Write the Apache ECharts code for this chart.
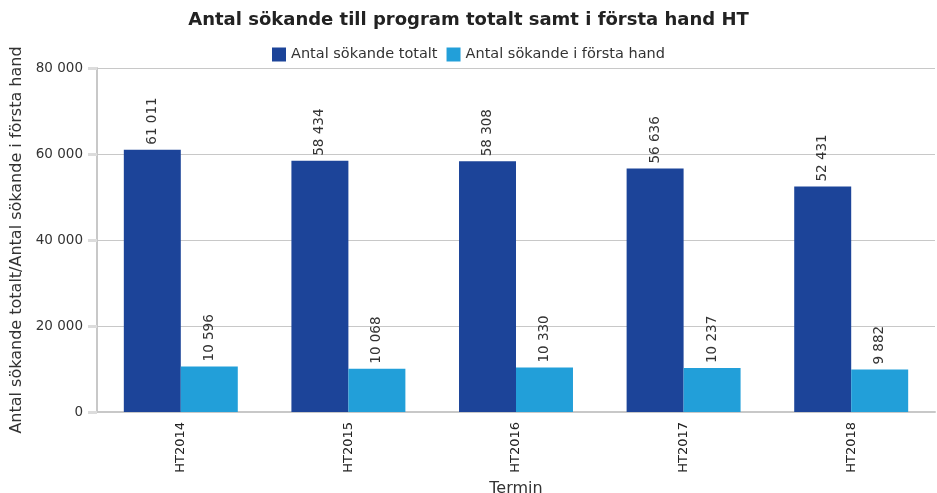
<!DOCTYPE html>
<html>
<head>
<meta charset="utf-8">
<script src="https://cdn.jsdelivr.net/npm/echarts@6/dist/echarts.min.js"></script>
<style>
  html, body { margin: 0; padding: 0; background: #fff; }
  #chart { width: 937px; height: 493px; }
</style>
</head>
<body>
<div id="chart"></div>
<script>
const terms = ['HT2014', 'HT2015', 'HT2016', 'HT2017', 'HT2018'];
const totalt = [61011, 58434, 58308, 56636, 52431];
const forstaHand = [10596, 10068, 10330, 10237, 9882];

function fmt(v) {
  return String(v).replace(/\B(?=(\d{3})+(?!\d))/g, ' ');
}

const chart = echarts.init(document.getElementById('chart'));

const labelStyle = {
  show: true,
  position: 'top',
  rotate: 90,
  align: 'left',
  verticalAlign: 'middle',
  distance: 5,
  color: '#333',
  fontSize: 13.5,
  fontFamily: 'DejaVu Sans',
  formatter: (p) => fmt(p.value),
};

chart.setOption({
  animation: false,
  textStyle: { fontFamily: 'DejaVu Sans' },
  title: {
    text: 'Antal sökande till program totalt samt i första hand HT',
    left: 'center',
    top: 6,
    textStyle: { fontSize: 18, fontWeight: 'bold', color: '#222' },
  },
  legend: {
    top: 42,
    left: 'center',
    itemWidth: 14,
    itemHeight: 14,
    itemGap: 9,
    icon: 'rect',
    textStyle: { fontSize: 14.5, color: '#333' },
  },
  grid: {
    left: 97,
    right: 2,
    top: 68,
    bottom: 81,
    outerBoundsMode: 'none',
  },
  xAxis: {
    type: 'category',
    data: terms,
    name: 'Termin',
    nameLocation: 'middle',
    nameGap: 63,
    nameTextStyle: { fontSize: 16, color: '#333' },
    axisLine: { lineStyle: { color: '#c8c8c8', width: 2 } },
    axisTick: { show: false },
    axisLabel: { rotate: 90, color: '#222', fontSize: 13, margin: 10 },
  },
  yAxis: {
    type: 'value',
    min: 0,
    max: 80000,
    interval: 20000,
    name: 'Antal sökande totalt/Antal sökande i första hand',
    nameLocation: 'middle',
    nameGap: 71,
    nameTextStyle: { fontSize: 16, color: '#333' },
    axisLine: { show: true, lineStyle: { color: '#c8c8c8', width: 2 } },
    axisTick: { show: true, length: 9, lineStyle: { color: '#dcdcdc', width: 3 } },
    axisLabel: { color: '#333', fontSize: 13.5, margin: 14, formatter: fmt },
    splitLine: { lineStyle: { color: '#c8c8c8', width: 1 } },
  },
  series: [
    {
      name: 'Antal sökande totalt',
      type: 'bar',
      data: totalt,
      barGap: 0,
      barCategoryGap: '32%',
      itemStyle: { color: '#1c4499' },
      label: labelStyle,
    },
    {
      name: 'Antal sökande i första hand',
      type: 'bar',
      data: forstaHand,
      itemStyle: { color: '#229fd9' },
      label: labelStyle,
    },
  ],
});
</script>
</body>
</html>
